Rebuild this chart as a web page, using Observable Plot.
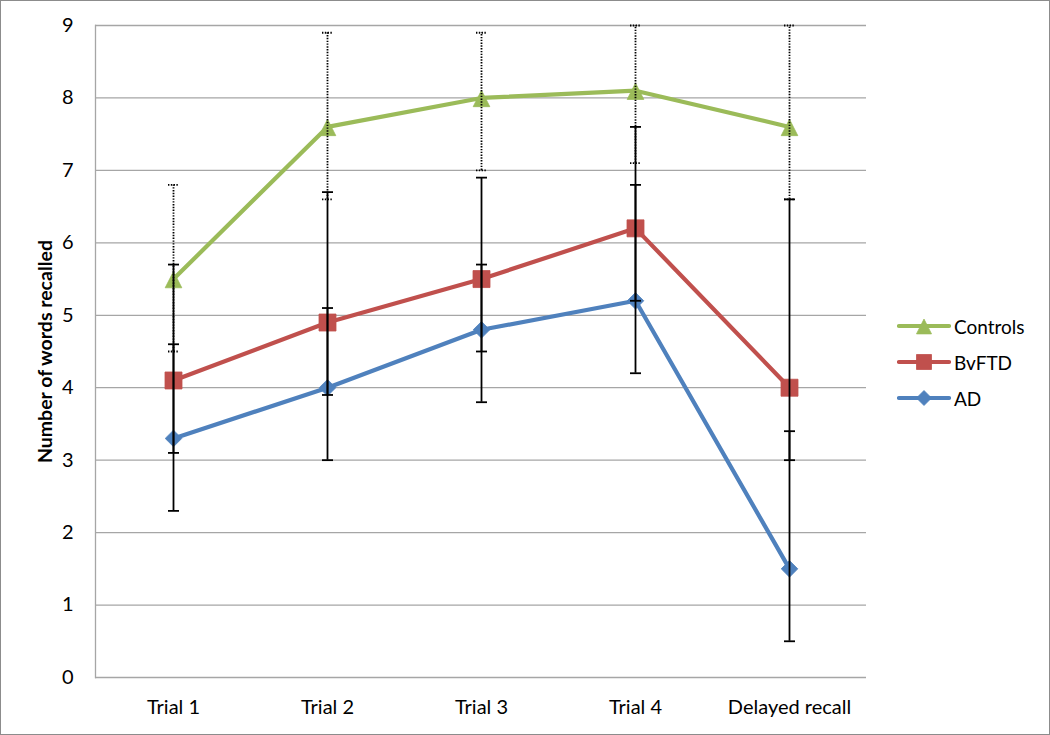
<!DOCTYPE html>
<html><head><meta charset="utf-8">
<script src="https://cdn.jsdelivr.net/npm/d3@7"></script>
<script src="https://cdn.jsdelivr.net/npm/@observablehq/plot@0.6"></script>
<style>
body{margin:0;background:#fff;}
#wrap{position:relative;width:1050px;height:735px;font-family:Lato,"Open Sans",sans-serif;overflow:hidden;}
#wrap > svg.plot{position:absolute;left:0;top:0;}
#border{position:absolute;left:0;top:0;width:1050px;height:735px;box-sizing:border-box;border:1px solid #8c8c8c;pointer-events:none;}
#legend{position:absolute;left:897px;top:308px;}
.item{display:flex;align-items:center;height:36px;font-size:19px;color:#000;}
.item svg{margin-right:3px;}
</style></head><body>
<div id="wrap"><div id="border"></div><div id="legend"></div></div>
<script>
// ---- data ----
const categories = ["Trial 1", "Trial 2", "Trial 3", "Trial 4", "Delayed recall"];
const yTicks = [0, 1, 2, 3, 4, 5, 6, 7, 8, 9];
const seriesNames = ["Controls", "BvFTD", "AD"];
const controls     = [5.5, 7.6, 8.0, 8.1, 7.6];
const controlsLow  = [4.5, 6.6, 7.0, 7.1, 6.6];
const controlsHigh = [6.8, 8.9, 8.9, 9.0, 9.0];
const bvftd        = [4.1, 4.9, 5.5, 6.2, 4.0];
const bvftdLow     = [3.1, 3.9, 4.5, 5.2, 3.0];
const bvftdHigh    = [5.7, 6.7, 6.9, 7.6, 6.6];
const ad           = [3.3, 4.0, 4.8, 5.2, 1.5];
const adLow        = [2.3, 3.0, 3.8, 4.2, 0.5];
const adHigh       = [4.6, 5.1, 5.7, 6.8, 3.4];
const yLabel = "Number of words recalled";

// ---- symbols ----
const rad = size => Math.sqrt(size / Math.PI);
const capSym = {draw(ctx, size){ const r = rad(size); ctx.moveTo(-r, 0); ctx.lineTo(r, 0); }};
const triSym = {draw(ctx, size){ const r = rad(size); ctx.moveTo(0, -r*0.92); ctx.lineTo(r, r*1.05); ctx.lineTo(-r, r*1.05); ctx.closePath(); }};
const sqSym  = {draw(ctx, size){ const r = rad(size); ctx.rect(-r, -r, 2*r, 2*r); }};
const diaSym = {draw(ctx, size){ const r = rad(size); ctx.moveTo(0, -r); ctx.lineTo(r, 0); ctx.lineTo(0, r); ctx.lineTo(-r, 0); ctx.closePath(); }};

const styles = {
  "Controls": {color: "#9BBB59", symbol: triSym, r: 8.3, dash: "1.4,1.4", values: controls, low: controlsLow, high: controlsHigh},
  "BvFTD":    {color: "#C0504D", symbol: sqSym,  r: 8.5, dash: null, values: bvftd, low: bvftdLow, high: bvftdHigh},
  "AD":       {color: "#4F81BD", symbol: diaSym, r: 8.3, dash: null, values: ad, low: adLow, high: adHigh}
};

const rows = seriesNames.map(name => categories.map((c, i) => ({
  series: name, cat: c, v: styles[name].values[i], lo: styles[name].low[i], hi: styles[name].high[i]
})));
const caps = rows.map(rs => rs.flatMap(d => [{cat: d.cat, v: d.lo}, {cat: d.cat, v: d.hi}]));

const lineMarks = [], markerMarks = [], errMarks = [];
seriesNames.forEach((name, k) => {
  const s = styles[name];
  lineMarks.push(Plot.line(rows[k], {x: "cat", y: "v", stroke: s.color, strokeWidth: 4.2, strokeLinejoin: "round"}));
  markerMarks.push(Plot.dot(rows[k], {x: "cat", y: "v", symbol: s.symbol, r: s.r, fill: s.color, stroke: s.color, strokeWidth: 0.8}));
  const dashOpt = s.dash ? {strokeDasharray: s.dash} : {};
  errMarks.push(Plot.ruleX(rows[k], {x: "cat", y1: "lo", y2: "hi", stroke: "black", strokeWidth: 1.8, ...dashOpt}));
  errMarks.push(Plot.dot(caps[k], {x: "cat", y: "v", symbol: capSym, r: 5.5, stroke: "black", fill: "none", strokeWidth: 1.8, ...dashOpt}));
});

const chart = Plot.plot({
  width: 1050, height: 735,
  marginLeft: 95, marginRight: 184, marginTop: 25, marginBottom: 58,
  style: {fontFamily: "Lato, 'Open Sans', sans-serif", fontSize: "20px", color: "#000", background: "transparent"},
  x: {type: "point", domain: categories, padding: 0.5, label: null},
  y: {domain: [0, 9], label: null},
  marks: [
    Plot.gridY(yTicks, {stroke: "#a6a6a6", strokeOpacity: 1, strokeWidth: 1.3}),
    Plot.frame({anchor: "left", stroke: "#a6a6a6", strokeWidth: 1.3}),
    Plot.axisY(yTicks, {tickSize: 0, tickPadding: 22, fontSize: 20, label: null, tickFormat: d3.format("d")}),
    Plot.axisX({tickSize: 0, tickPadding: 22, fontSize: 20, label: null}),
    Plot.text([yLabel], {text: d => d, frameAnchor: "left", textAnchor: "middle", rotate: -90, dx: -50, fontWeight: "bold", fontSize: 19.5}),
    ...lineMarks,
    ...markerMarks,
    ...errMarks
  ]
});
document.getElementById("wrap").prepend(chart);

// ---- legend ----
const legend = d3.select("#legend");
seriesNames.forEach(name => {
  const s = styles[name];
  const item = legend.append("div").attr("class", "item");
  const svg = item.append("svg").attr("width", 54).attr("height", 22);
  svg.append("line").attr("x1", 2).attr("x2", 52).attr("y1", 11).attr("y2", 11)
    .attr("stroke", s.color).attr("stroke-width", 4.2).attr("stroke-linecap", "round");
  svg.append("path").attr("transform", "translate(27,11)")
    .attr("d", d3.symbol(s.symbol, Math.PI * 7.5 * 7.5)())
    .attr("fill", s.color).attr("stroke", s.color).attr("stroke-width", 0.8);
  item.append("span").text(name);
});
</script>
</body></html>
